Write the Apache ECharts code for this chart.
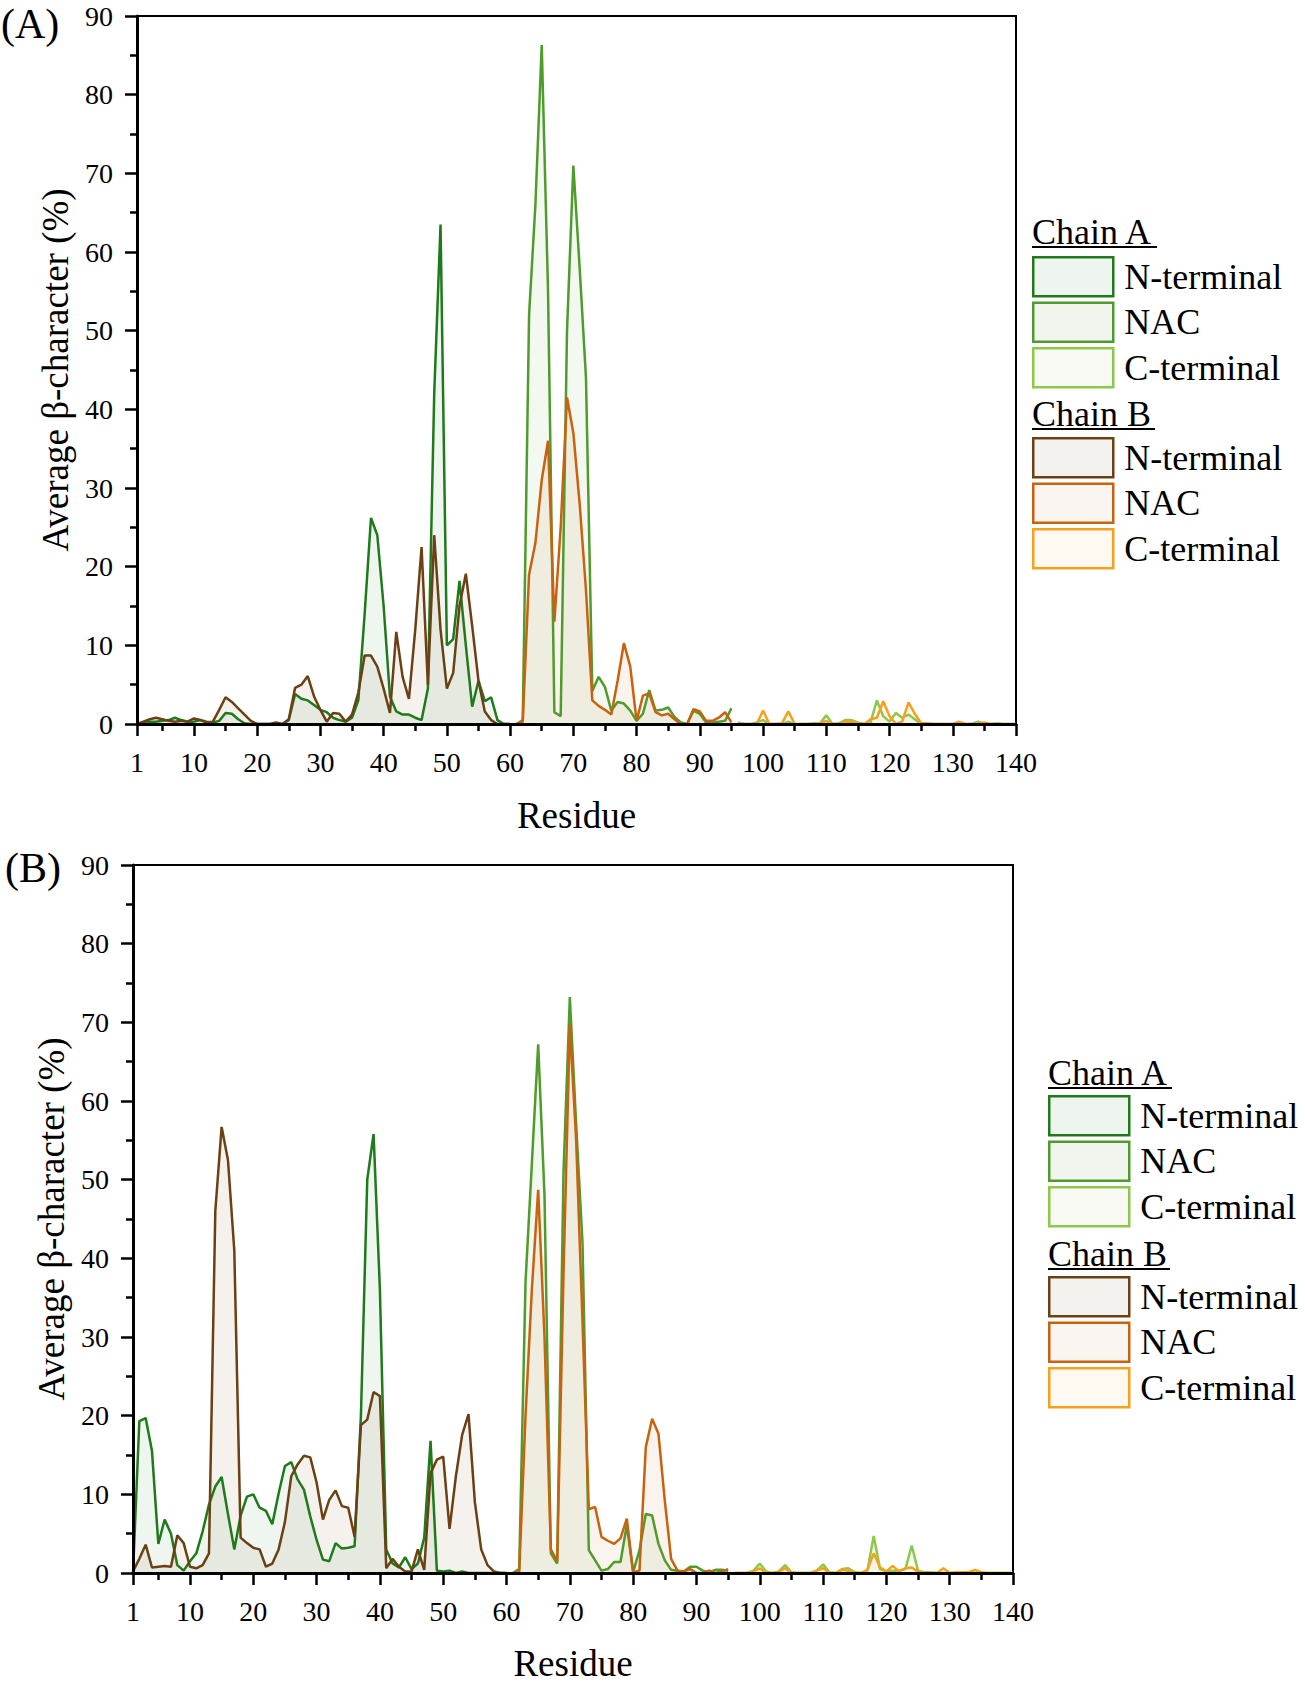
<!DOCTYPE html>
<html>
<head>
<meta charset="utf-8">
<script src="https://cdn.jsdelivr.net/npm/echarts@6/dist/echarts.min.js"></script>
<style>
html,body{margin:0;padding:0;background:#fff;}
#chart{width:1305px;height:1683px;}
</style>
</head>
<body>
<div id="chart"></div>
<script>
// ---------- axis ticks ----------
const xTickValues = [1,10,20,30,40,50,60,70,80,90,100,110,120,130,140];
const xMinorTickValues = [5,15,25,35,45,55,65,75,85,95,105,115,125,135];
// first residue of each region
const startN = 1, startNAC = 61, startC = 96;

// ---------- Panel (A) ----------
const A_chainA_N = [0,0.2,0.3,0.3,0.4,0.5,0.8,0.5,0.3,0.3, 0.5,0.3,0.2,0.4,1.4,1.3,0.6,0.1,0,0, 0,0,0,0,0.5,3.8,3.2,3.0,2.4,1.8, 1.5,0.8,0.5,0.3,0.8,3.0,14,26.2,24,15, 3.5,1.6,1.2,1.2,0.8,0.5,4.5,42,63.5,10, 10.8,18.2,10,2.2,5.5,2.9,3.4,0.5,0,0];
const A_chainA_NAC = [0,0.5,52,66,86.3,55,1.5,1.0,50,71, 58,44,4.2,6.0,4.7,1.7,2.8,2.6,1.7,0.4, 1.3,4.3,1.7,1.8,2.1,0.9,0.2,0,1.7,1.3, 0.2,0.2,0.3,0.4,2.0];
const A_chainA_C = [0.2,0,0,0.2,0.5,0,0,0,0.3,0, 0,0,0.1,0.1,1.1,0,0.1,0.5,0.5,0.2, 0,0.2,3.0,1.0,0.3,1.4,0.8,1.2,0.6,0, 0,0,0,0,0,0,0,0,0.3,0.1, 0,0.1,0,0,0];
const A_chainB_N = [0,0.3,0.6,0.8,0.6,0.4,0.3,0.4,0.3,0.7, 0.5,0.2,0.3,1.8,3.4,2.8,2.0,1.2,0.4,0, 0,0,0.2,0,0.6,4.6,5.0,6.1,3.5,1.8, 0.3,1.4,1.3,0.3,1.2,4.0,8.7,8.7,7.3,4.5, 1.4,11.7,6.0,3.2,12,22.5,5,24,12,4.5, 6.5,15,19.1,12.5,5.5,1.6,0.5,0,0,0];
const A_chainB_NAC = [0,0.3,19,23,31,36,13,25,41.5,37, 28,17,3,2.3,1.8,1.2,5.5,10.3,7.3,0.4, 3.6,3.9,1.5,1.1,1.3,0.6,0,0,1.9,1.6, 0.4,0.4,0.8,1.5,0.2];
const A_chainB_C = [0,0,0,0,1.7,0,0,0.1,1.6,0, 0,0,0,0.1,0.4,0,0,0.3,0.3,0.1, 0,0.6,0.8,2.9,1.0,0,0.3,2.75,1.3,0.1, 0.1,0,0,0,0,0.3,0,0,0,0.2, 0,0,0,0,0];

// ---------- Panel (B) ----------
const B_chainA_N = [0,19.3,19.7,15.5,3.7,6.8,5,1,0.3,1.5, 2.5,5.3,8.7,11,12.2,7.5,3,7.3,9.7,10, 8.3,7.9,6.2,10.1,13.6,14.1,11.9,10.6,7.2,4.2, 1.7,1.5,3.8,3.1,3.2,3.4,20,50,55.8,36, 3,1.2,0.7,2,0.5,1.2,4.5,16.8,0.3,0.2, 0.3,0,0.2,0,0,0,0,0,0,0];
const B_chainA_NAC = [0,0.5,37,52,67.2,48,2.5,1.2,51,73.2, 57,42,2.9,1.6,0.3,0.5,1.4,1.4,6.1,0.1, 2.9,7.5,7.3,3.7,1.6,0.4,0.3,0.2,0.8,0.8, 0.3,0.1,0.4,0.4,0.3];
const B_chainA_C = [0,0,0,0.3,1.2,0.2,0,0.2,1.0,0.1, 0,0,0,0.3,1.1,0.1,0,0.5,0.6,0.1, 0,0.3,4.7,0.5,0.2,0.3,0.3,0.5,3.5,0.3, 0.1,0.1,0,0,0,0,0,0,0,0, 0,0,0,0,0];
const B_chainB_N = [0.2,1.8,3.6,0.7,0.8,0.9,0.8,4.8,3.8,0.8, 0.6,1.0,2.5,46,56.7,52.5,41,4.5,3.8,3.2, 3.0,0.8,1.2,3.0,6.5,12.3,13.8,14.9,14.7,11.5, 6.8,9.3,10.5,8.5,8.3,4.6,18.8,19.5,23,22.5, 0.6,1.8,0.8,0.2,0.2,3.0,0.4,12.7,14.4,14.8, 5.6,12.3,17.6,20.2,9,3,1,0.2,0,0];
const B_chainB_NAC = [0,0,20,36,48.7,30,3,1.5,38,69.7, 55,32,8.1,8.4,4.6,4.1,3.7,4.4,6.9,0.1, 0.3,16,19.6,17.7,9.2,1.8,0.3,0.2,0.5,0, 0,0.3,0,0.2,0.5];
const B_chainB_C = [0,0,0,0.2,0.6,0,0,0.1,0.6,0, 0,0,0,0.3,0.6,0,0,0.4,0.3,0, 0,0.4,2.5,0.7,0.2,0.9,0.2,0.6,0.7,0.2, 0,0,0,0.6,0,0.1,0.1,0.1,0.4,0.1, 0,0,0,0,0];

// ---------- series names / labels ----------
const namesChainA = ['Chain A N-terminal','Chain A NAC','Chain A C-terminal'];
const namesChainB = ['Chain B N-terminal','Chain B NAC','Chain B C-terminal'];
const regionLabel = {
  'Chain A N-terminal':'N-terminal','Chain A NAC':'NAC','Chain A C-terminal':'C-terminal',
  'Chain B N-terminal':'N-terminal','Chain B NAC':'NAC','Chain B C-terminal':'C-terminal'
};

// ---------- styles ----------
const SERIF = '"Liberation Serif", "Times New Roman", serif';
const LINE = {
  'Chain A N-terminal':'#1f7a1c','Chain A NAC':'#4f9c2c','Chain A C-terminal':'#8dc84c',
  'Chain B N-terminal':'#6b4014','Chain B NAC':'#c9620e','Chain B C-terminal':'#f5a11f'
};
const FILL = {
  'Chain A N-terminal':'#eef5ef','Chain A NAC':'#f1f5ee','Chain A C-terminal':'#f8faf3',
  'Chain B N-terminal':'#f3f2ef','Chain B NAC':'#faf5f0','Chain B C-terminal':'#fff9f2'
};

function pairs(start, vals){ return vals.map((v,i)=>[start+i, v]); }

function series(name, xIdx, yIdx, start, vals){
  return {
    type:'line', name, xAxisIndex:xIdx, yAxisIndex:yIdx,
    data: pairs(start, vals), symbol:'none', showSymbol:false, silent:true, z:2,
    lineStyle:{color:LINE[name], width:2.5},
    itemStyle:{color:LINE[name]},
    areaStyle:{color:LINE[name], opacity:0.07}
  };
}

function xAxes(gridIndex, nameGap){
  return [
    {gridIndex, type:'value', min:1, max:140, position:'bottom', z:6,
     name:'Residue', nameLocation:'middle', nameGap,
     nameTextStyle:{fontFamily:SERIF, fontSize:37, color:'#000'},
     axisLine:{show:true, onZero:false, lineStyle:{color:'#000', width:3}},
     axisTick:{show:true, inside:false, length:12, customValues:xTickValues, lineStyle:{color:'#000', width:2.5}},
     axisLabel:{show:true, customValues:xTickValues, margin:24, fontFamily:SERIF, fontSize:28, color:'#000'},
     splitLine:{show:false}},
    {gridIndex, type:'value', min:1, max:140, position:'bottom', z:6,
     axisLine:{show:false},
     axisTick:{show:true, inside:false, length:7, customValues:xMinorTickValues, lineStyle:{color:'#000', width:2.5}},
     axisLabel:{show:false}, splitLine:{show:false}}
  ];
}

function yAxis(gridIndex){
  return {gridIndex, type:'value', min:0, max:90, interval:10, z:6,
    name:'Average β-character (%)', nameLocation:'middle', nameGap:60,
    nameTextStyle:{fontFamily:SERIF, fontSize:37, color:'#000'},
    axisLine:{show:true, onZero:false, lineStyle:{color:'#000', width:3}},
    axisTick:{show:true, inside:false, length:12, lineStyle:{color:'#000', width:2.5}},
    minorTick:{show:true, splitNumber:2, length:7, lineStyle:{color:'#000', width:2.5}},
    axisLabel:{margin:24, fontFamily:SERIF, fontSize:28, color:'#000'},
    splitLine:{show:false}, minorSplitLine:{show:false}};
}

function legend(names, left, top){
  return {
    orient:'vertical', left, top, padding:0, itemWidth:80, itemHeight:39, itemGap:4,
    selectedMode:false, icon:'rect',
    data: names.map(n=>({name:n, icon:'rect',
      itemStyle:{color:FILL[n], borderColor:LINE[n], borderWidth:2.5}})),
    formatter: n => regionLabel[n],
    textStyle:{fontFamily:SERIF, fontSize:36, color:'#000', padding:[0,0,0,6]}
  };
}

function header(text, x, y){
  return {type:'text', x, y, silent:true,
    style:{text, fontFamily:SERIF, fontSize:36, fill:'#000', align:'left', verticalAlign:'bottom'}};
}
function underline(x1, x2, y){
  return {type:'line', silent:true, shape:{x1, y1:y, x2, y2:y}, style:{stroke:'#000', lineWidth:2}};
}

const chart = echarts.init(document.getElementById('chart'), null, {renderer:'svg'});
chart.setOption({
  animation:false,
  backgroundColor:'#fff',
  grid:[
    {left:137, top:16, width:879, height:708, show:true, borderColor:'#000', borderWidth:2, containLabel:false, outerBoundsMode:'none'},
    {left:133, top:865, width:880, height:708, show:true, borderColor:'#000', borderWidth:2, containLabel:false, outerBoundsMode:'none'}
  ],
  xAxis:[...xAxes(0, 73), ...xAxes(1, 72)],
  yAxis:[yAxis(0), yAxis(1)],
  legend:[
    legend(namesChainA, 1032, 256),
    legend(namesChainB, 1032, 437),
    legend(namesChainA, 1048, 1095),
    legend(namesChainB, 1048, 1276)
  ],
  graphic:[
    {type:'text', x:1, y:45, silent:true, style:{text:'(A)', fontFamily:SERIF, fontSize:42, fill:'#000', verticalAlign:'bottom'}},
    {type:'text', x:5, y:889, silent:true, style:{text:'(B)', fontFamily:SERIF, fontSize:42, fill:'#000', verticalAlign:'bottom'}},
    header('Chain A', 1032, 250), underline(1032, 1157, 247),
    header('Chain B', 1032, 432), underline(1032, 1155, 429),
    header('Chain A', 1048, 1091), underline(1048, 1172, 1088),
    header('Chain B', 1048, 1272), underline(1048, 1170, 1269)
  ],
  series:[
    series('Chain A N-terminal', 0, 0, startN, A_chainA_N),
    series('Chain A NAC', 0, 0, startNAC, A_chainA_NAC),
    series('Chain A C-terminal', 0, 0, startC, A_chainA_C),
    series('Chain B N-terminal', 0, 0, startN, A_chainB_N),
    series('Chain B NAC', 0, 0, startNAC, A_chainB_NAC),
    series('Chain B C-terminal', 0, 0, startC, A_chainB_C),
    series('Chain A N-terminal', 2, 1, startN, B_chainA_N),
    series('Chain A NAC', 2, 1, startNAC, B_chainA_NAC),
    series('Chain A C-terminal', 2, 1, startC, B_chainA_C),
    series('Chain B N-terminal', 2, 1, startN, B_chainB_N),
    series('Chain B NAC', 2, 1, startNAC, B_chainB_NAC),
    series('Chain B C-terminal', 2, 1, startC, B_chainB_C)
  ]
});
</script>
</body>
</html>
